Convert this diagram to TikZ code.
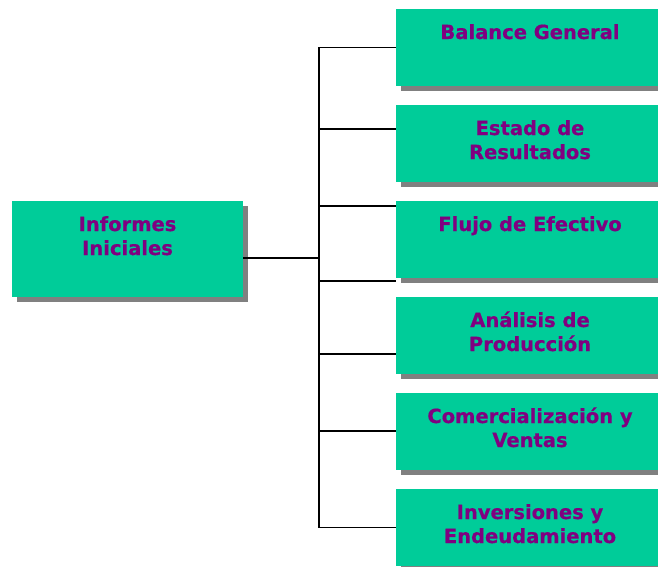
\documentclass[tikz,border=0pt]{standalone}
\usepackage{fontspec}
\newfontfamily\boxfont{DejaVu Sans}[BoldFeatures={FakeBold=0.6}]
\usetikzlibrary{shadows,calc}
\definecolor{BoxClr}{RGB}{0,204,153}
\definecolor{TextClr}{RGB}{128,0,128}
\definecolor{ShadowClr}{RGB}{128,128,128}

\tikzset{
  infobox/.style={rectangle, fill=BoxClr, inner sep=0pt,
    drop shadow={shadow xshift=5pt, shadow yshift=-5pt, fill=ShadowClr, opacity=1},
    label={[boxtext]north:\rule{0pt}{19pt}#1}},
  boxtext/.style={anchor=north, yshift=-11pt, inner sep=0pt, align=center,
    font=\boxfont\bfseries\fontsize{19.5}{24}\selectfont, text=TextClr},
  link/.style={line width=1.8pt, black}
}

\begin{document}
\begin{tikzpicture}[x=1pt,y=-1pt]
\useasboundingbox (0,0) rectangle (658,566);
\clip (0,0) rectangle (658,566);

\node[infobox={Informes\\Iniciales}, minimum width=231pt, minimum height=96pt] (root) at (127.5,249) {};

\foreach \name/\txt [count=\i from 0] in {bal/{Balance General}, est/{Estado de\\Resultados},
    flu/{Flujo de Efectivo}, ana/{Análisis de\\Producción},
    com/{Comercialización y\\Ventas}, inv/{Inversiones y\\Endeudamiento}}
  \node[infobox=\txt, minimum width=268pt, minimum height=77pt] (\name) at (530,47.5+96*\i) {};

\coordinate (trunk) at (319,258);

\draw[link] (root.east |- trunk) -- (trunk);
\draw[link] (bal.west) -| (trunk) |- (inv.west);

\foreach \name/\dy in {est/24, flu/5, flu/80, ana/57, com/38.5}
  \draw[link] ($(\name.north west)+(0,\dy)$) coordinate (p) -- (p -| trunk);

\end{tikzpicture}
\end{document}
